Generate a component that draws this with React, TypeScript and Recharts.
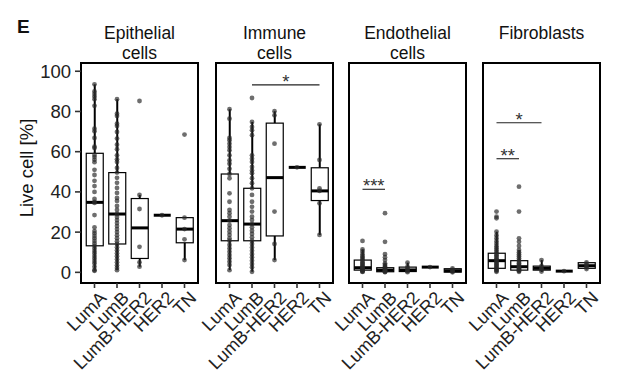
import { Bar, ComposedChart, ReferenceArea, ReferenceLine, Scatter, XAxis, YAxis } from "recharts"

const SUBTYPES = ["LumA", "LumB", "LumB-HER2", "HER2", "TN"]
const Y_TICKS = [0, 20, 40, 60, 80, 100]

// box stats per subtype: [lower whisker, q1, median, q3, upper whisker]
const epithelialBoxes = [
  [0.8, 13.2, 34.8, 59.2, 93.5],
  [1.1, 14.1, 29.0, 49.6, 86.1],
  [2.8, 6.9, 22.1, 36.7, 38.5],
  [28.4, 28.4, 28.4, 28.4, 28.4],
  [6.1, 14.7, 21.5, 27.2, 27.2],
]
const immuneBoxes = [
  [1.1, 15.7, 25.7, 48.9, 81.1],
  [0.3, 15.7, 24.0, 41.8, 74.8],
  [6.1, 18.1, 47.1, 74.2, 80.1],
  [52.2, 52.2, 52.2, 52.2, 52.2],
  [18.6, 35.7, 40.5, 52.0, 73.6],
]
const endothelialBoxes = [
  [0.1, 1.1, 2.3, 6.1, 11.4],
  [0.0, 0.3, 1.1, 2.3, 4.5],
  [0.1, 0.4, 1.2, 2.6, 4.8],
  [2.6, 2.6, 2.6, 2.6, 2.6],
  [0.0, 0.1, 0.8, 1.8, 2.0],
]
const fibroblastBoxes = [
  [0.3, 2.0, 5.8, 9.5, 20.2],
  [0.1, 1.1, 2.8, 5.8, 11.1],
  [0.2, 1.1, 2.0, 3.1, 6.1],
  [0.6, 0.6, 0.6, 0.6, 0.6],
  [1.6, 2.0, 3.3, 4.8, 5.0],
]

// individual samples, one list per subtype
const epithelialPoints = [
  [93.5, 90.0, 88.7, 87.4, 86.1, 82.8, 71.4, 70.1, 66.8, 62.5, 61.8, 58.4, 57.3, 56.0, 54.8, 51.0,
    48.4, 45.5, 42.9, 40.0, 36.5, 35.0, 34.5, 28.5, 22.4, 20.5, 19.4, 18.1, 16.9, 15.6, 14.4, 13.1,
    11.9, 10.6, 9.5, 8.1, 6.9, 5.6, 4.5, 2.8, 1.1, 0.8],
  [86.1, 78.9, 77.8, 73.9, 72.8, 69.8, 66.5, 63.5, 61.2, 58.2, 56.2, 54.9, 51.9, 49.6, 47.0, 44.5,
    42.0, 39.5, 37.0, 35.5, 33.0, 31.0, 29.0, 27.5, 26.0, 24.5, 23.0, 21.5, 20.0, 18.5, 17.0, 15.5,
    14.1, 12.5, 11.0, 9.5, 8.0, 6.5, 5.0, 3.5, 2.2, 1.1],
  [85.2, 38.5, 31.5, 12.7, 5.0, 2.8],
  [28.4],
  [68.5, 27.2, 21.5, 16.4, 6.1],
]
const immunePoints = [
  [81.1, 76.4, 66.8, 65.7, 64.0, 62.3, 60.7, 58.2, 55.7, 54.0, 51.5, 48.9, 46.8, 39.3, 35.1, 31.0,
    29.4, 27.7, 25.7, 23.5, 21.9, 20.2, 18.6, 16.9, 15.7, 13.6, 11.9, 10.2, 8.6, 7.0, 5.3, 3.6, 1.1],
  [86.7, 74.8, 72.3, 70.6, 68.2, 58.2, 56.5, 54.9, 52.4, 50.7, 49.3, 46.8, 44.3, 41.8, 38.5, 35.1,
    32.6, 30.2, 27.7, 26.0, 24.0, 22.4, 20.7, 19.1, 17.4, 15.7, 14.1, 12.4, 10.7, 9.1, 7.5, 5.8,
    4.1, 2.5, 0.3],
  [80.1, 78.1, 64.0, 30.2, 14.1, 6.1],
  [52.2],
  [73.6, 55.9, 41.8, 40.5, 34.3, 18.6],
]
const endothelialPoints = [
  [15.6, 11.4, 10.3, 9.0, 8.0, 7.2, 6.5, 5.8, 5.0, 4.4, 3.8, 3.2, 2.7, 2.3, 2.0, 1.6, 1.3, 1.0,
    0.7, 0.4, 0.2],
  [29.4, 15.2, 9.1, 7.5, 6.1, 4.5, 3.8, 3.1, 2.6, 2.2, 1.8, 1.5, 1.2, 0.9, 0.7, 0.5, 0.3, 0.1],
  [4.8, 2.8, 1.9, 1.2, 0.6, 0.1],
  [2.6],
  [2.0, 1.2, 0.8, 0.4, 0.0],
]
const fibroblastPoints = [
  [30.2, 27.7, 26.9, 20.2, 18.5, 17.0, 15.5, 14.2, 13.0, 12.0, 11.0, 10.0, 9.2, 8.5, 7.8, 7.0,
    6.4, 5.8, 5.2, 4.6, 4.0, 3.4, 2.8, 2.2, 1.7, 1.2, 0.7, 0.3],
  [42.6, 30.2, 16.9, 15.2, 13.1, 11.1, 10.0, 9.0, 8.0, 7.0, 6.0, 5.2, 4.5, 3.8, 3.2, 2.8, 2.3,
    1.9, 1.5, 1.1, 0.7, 0.3],
  [6.1, 3.1, 2.0, 1.5, 0.4],
  [0.6],
  [5.0, 4.2, 3.3, 2.5, 1.6],
]

const immuneSignif = [{ from: 2, to: 5, y: 93.2, label: "*" }]
const endothelialSignif = [{ from: 1, to: 2, y: 41.3, label: "***" }]
const fibroblastSignif = [
  { from: 1, to: 2, y: 56.5, label: "**" },
  { from: 1, to: 3, y: 74.4, label: "*" },
]

const FONT = "'Liberation Sans', Arial, sans-serif"
const PANEL_W = 117
const Y_DOMAIN = [-5.3, 104.1]

function BoxShape(props: any) {
  const { x, y, width, height, payload } = props
  const top = Math.min(y, y + height)
  const bottom = Math.max(y, y + height)
  const span = payload.hi - payload.lo
  const py = (v: number) => (span > 0 ? bottom - ((bottom - top) * (v - payload.lo)) / span : top)
  const cx = x + width / 2
  return (
    <g>
      <line x1={cx} x2={cx} y1={py(payload.hi)} y2={py(payload.q3)} stroke="#000" strokeWidth={2} />
      <line x1={cx} x2={cx} y1={py(payload.q1)} y2={py(payload.lo)} stroke="#000" strokeWidth={2} />
      <rect
        x={x}
        y={py(payload.q3)}
        width={width}
        height={py(payload.q1) - py(payload.q3)}
        fill="#fff"
        stroke="#000"
        strokeWidth={1.2}
      />
      <line x1={x} x2={x + width} y1={py(payload.med)} y2={py(payload.med)} stroke="#000" strokeWidth={3} />
    </g>
  )
}

// rotated category label, anchored a little right of the tick like ggplot's hjust=1
function CatTick({ x, y, payload }: any) {
  const ax = x + 4
  return (
    <text
      x={ax}
      y={y}
      dy="0.71em"
      transform={`rotate(-45, ${ax}, ${y})`}
      textAnchor="end"
      fontSize={18}
      fontFamily={FONT}
      fill="#222"
    >
      {SUBTYPES[payload.value - 1]}
    </text>
  )
}

function Panel({ left, boxes, points, signif, showY }: any) {
  const rows = boxes.map((b: number[], i: number) => ({
    x: i + 1,
    range: [b[0], b[4]],
    lo: b[0],
    q1: b[1],
    med: b[2],
    q3: b[3],
    hi: b[4],
  }))
  const pts = points.flatMap((vals: number[], i: number) => vals.map((v) => ({ x: i + 1, v })))
  const ml = showY ? 0 : 60
  const yw = showY ? 81 : 0
  return (
    <div style={{ position: "absolute", left: left - ml - yw, top: 0 }}>
      <ComposedChart
        width={ml + yw + PANEL_W + 24}
        height={383}
        data={rows}
        margin={{ top: 63, right: 24, bottom: 0, left: ml }}
      >
        <XAxis
          dataKey="x"
          type="number"
          domain={[0.4, 5.6]}
          ticks={[1, 2, 3, 4, 5]}
          allowDataOverflow
          interval={0}
          height={100}
          axisLine={false}
          tickSize={5}
          tickMargin={2}
          tickLine={{ stroke: "#333", strokeWidth: 1.6 }}
          tick={<CatTick />}
        />
        <YAxis
          type="number"
          domain={Y_DOMAIN}
          allowDataOverflow
          ticks={Y_TICKS}
          hide={!showY}
          width={yw}
          axisLine={false}
          tickSize={6}
          tickMargin={4}
          tickLine={{ stroke: "#333", strokeWidth: 1.6 }}
          tick={{ fontSize: 18.5, fill: "#222", fontFamily: FONT }}
        />
        <Bar dataKey="range" barSize={17} shape={BoxShape} isAnimationActive={false} />
        <Scatter
          data={pts}
          dataKey="v"
          isAnimationActive={false}
          shape={(p: any) => <circle cx={p.cx} cy={p.cy} r={2.4} fill="#2a2a2a" fillOpacity={0.68} />}
        />
        {signif.map((s: any, i: number) => (
          <ReferenceLine
            key={i}
            segment={[
              { x: s.from, y: s.y },
              { x: s.to, y: s.y },
            ]}
            stroke="#222"
            strokeWidth={1.1}
            label={{ value: s.label, position: "top", offset: -3, fontSize: 18.5, fill: "#333", fontFamily: FONT }}
          />
        ))}
        <ReferenceArea
          x1={0.4}
          x2={5.6}
          y1={Y_DOMAIN[0]}
          y2={Y_DOMAIN[1]}
          fill="none"
          stroke="#000"
          strokeWidth={2}
        />
      </ComposedChart>
    </div>
  )
}

const PANELS = [
  { left: 81, title: ["Epithelial", "cells"], boxes: epithelialBoxes, points: epithelialPoints, signif: [] },
  { left: 216, title: ["Immune", "cells"], boxes: immuneBoxes, points: immunePoints, signif: immuneSignif },
  { left: 349, title: ["Endothelial", "cells"], boxes: endothelialBoxes, points: endothelialPoints, signif: endothelialSignif },
  { left: 483, title: ["Fibroblasts"], boxes: fibroblastBoxes, points: fibroblastPoints, signif: fibroblastSignif },
]

export default function App() {
  return (
    <div
      style={{
        position: "absolute",
        left: 0,
        top: 0,
        width: 638,
        height: 383,
        background: "#fff",
        fontFamily: FONT,
        color: "#111",
        overflow: "hidden",
      }}
    >
      <div style={{ position: "absolute", left: 17, top: 17, fontSize: 19, lineHeight: "19px", fontWeight: "bold" }}>E</div>
      {PANELS.map((p, i) => (
        <div
          key={"t" + i}
          style={{
            position: "absolute",
            left: p.left,
            top: 24,
            width: PANEL_W,
            textAlign: "center",
            fontSize: 17.5,
            lineHeight: "19.6px",
          }}
        >
          {p.title.map((t, j) => (
            <div key={j}>{t}</div>
          ))}
        </div>
      ))}
      {PANELS.map((p, i) => (
        <Panel key={i} left={p.left} boxes={p.boxes} points={p.points} signif={p.signif} showY={i === 0} />
      ))}
      <svg width={50} height={383} style={{ position: "absolute", left: 0, top: 0 }}>
        <text
          x={0}
          y={0}
          transform="translate(33,168) rotate(-90)"
          textAnchor="middle"
          fontSize={18.5}
          fontFamily={FONT}
          fill="#111"
        >
          Live cell [%]
        </text>
      </svg>
    </div>
  )
}
